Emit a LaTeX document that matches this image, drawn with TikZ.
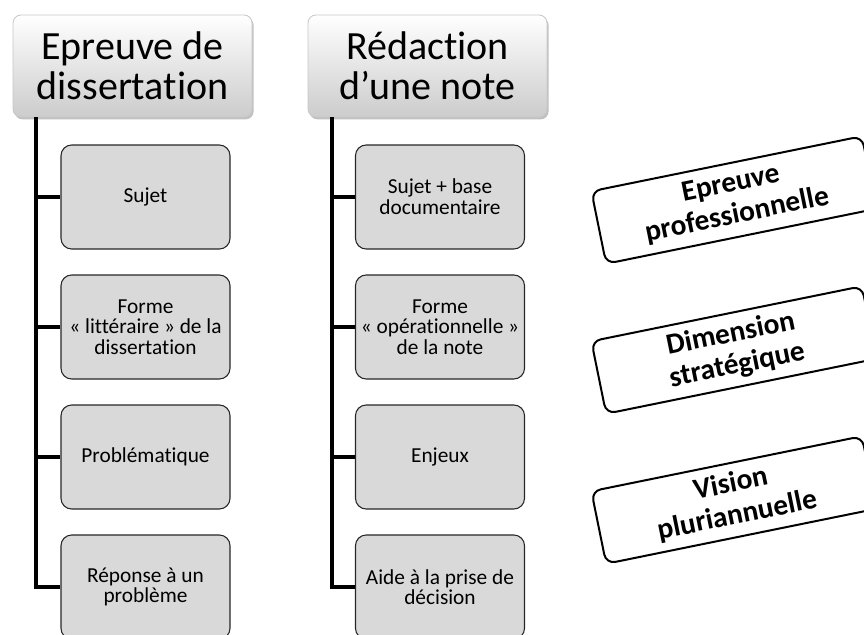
\documentclass[tikz,border=0pt]{standalone}
\usepackage{fontspec}
\setmainfont{Carlito}[Ligatures=NoCommon]
\usetikzlibrary{shadows}
\begin{document}
\begin{tikzpicture}[x=0.75pt,y=-0.75pt,
  header/.style={rounded corners=6pt, draw=black!22, line width=0.6pt,
    top color=white, bottom color=black!20, minimum width=179.25pt,
    minimum height=76.5pt, align=center, inner sep=0pt,
    font=\fontsize{30}{30}\selectfont,
    drop shadow={shadow xshift=1.2pt, shadow yshift=-1.8pt, opacity=0.35, fill=black!70}},
  item/.style={rounded corners=8pt, draw=black!85, line width=0.8pt,
    fill=black!15, minimum width=126.75pt, minimum height=78pt,
    align=center, inner sep=2pt, font=\fontsize{16}{15.5}\selectfont},
  tag/.style={rounded corners=7pt, draw=black, line width=1.5pt, fill=white,
    minimum width=207pt, minimum height=55.5pt, rotate=11.5, align=center,
    inner sep=0pt, font=\bfseries\fontsize{22}{24}\selectfont},
  conn/.style={line width=2.3pt, black}]
\useasboundingbox (0,0) rectangle (864,635);
\clip (0,0) rectangle (864,635);

% column 1: dissertation
\node[header] (h1) at (132.5,66) {Epreuve de\\dissertation};
\node[item] (a1) at (145.5,197) {Sujet};
\node[item] (a2) at (145.5,327) {Forme\\« littéraire » de la\\dissertation};
\node[item] (a3) at (145.5,457) {Problématique};
\node[item] (a4) at (145.5,587) {Réponse à un\\problème};

% column 2: note
\node[header] (h2) at (427.5,66) {Rédaction\\d’une note};
\node[item] (b1) at (440,197) {Sujet + base\\documentaire};
\node[item] (b2) at (440,327) {Forme\\« opérationnelle »\\de la note};
\node[item] (b3) at (440,457) {Enjeux};
\node[item] (b4) at (440,587) {Aide à la prise de\\décision};

% spines and branches
\coordinate (s1) at (36,117);
\coordinate (s2) at (332,117);
\draw[conn] (s1) |- (a4.west);
\draw[conn] (s1 |- a1.west) -- (a1.west);
\draw[conn] (s1 |- a2.west) -- (a2.west);
\draw[conn] (s1 |- a3.west) -- (a3.west);
\draw[conn] (s2) |- (b4.west);
\draw[conn] (s2 |- b1.west) -- (b1.west);
\draw[conn] (s2 |- b2.west) -- (b2.west);
\draw[conn] (s2 |- b3.west) -- (b3.west);

% tilted labels
\node[tag] (t1) at (734,200) {Epreuve\\professionnelle};
\node[tag] (t2) at (734,350) {Dimension\\stratégique};
\node[tag] (t3) at (734,500) {Vision\\pluriannuelle};
\end{tikzpicture}
\end{document}
